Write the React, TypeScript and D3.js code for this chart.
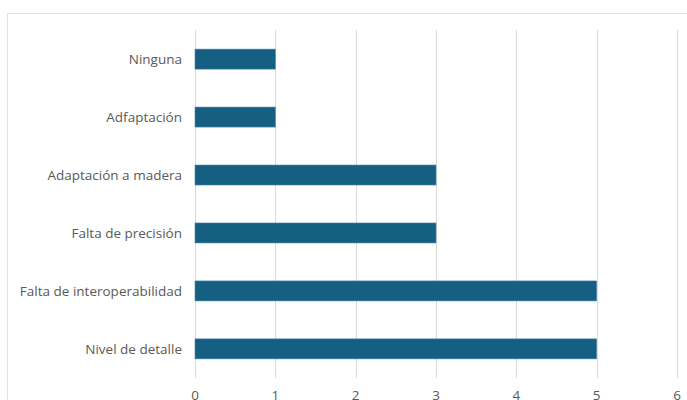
import React from "react";
import * as d3 from "d3";

const categories = ["Ninguna", "Adfaptación", "Adaptación a madera", "Falta de precisión", "Falta de interoperabilidad", "Nivel de detalle"];
const values = [1, 1, 3, 3, 5, 5];
const ticks = [0, 1, 2, 3, 4, 5, 6];

export default function App() {
  const W = 687, H = 400;
  const x = d3.scaleLinear().domain([0, 6]).range([195, 677]);
  const y = d3.scaleBand().domain(categories).range([30, 378]).paddingInner(0.655).paddingOuter(0.33);
  const font = "'Open Sans', sans-serif";
  return (
    <svg width={W} height={H} style={{ position: "absolute", left: 0, top: 0, display: "block" }}>
      <rect x={0} y={0} width={W} height={H} fill="#fff" />
      <rect x={7.5} y={13.5} width={700} height={420} fill="none" stroke="#e3e3e3" />
      {ticks.map((t) => (
        <line key={t} x1={Math.round(x(t)) + 0.5} x2={Math.round(x(t)) + 0.5} y1={30} y2={378} stroke="#d9d9d9" />
      ))}
      {categories.map((c, i) => (
        <rect key={c} x={x(0)} y={y(c)!} width={x(values[i]) - x(0)} height={y.bandwidth()} fill="#156082" stroke="#4a88a6" strokeWidth={0.6} />
      ))}
      {categories.map((c) => (
        <text key={c} x={182} y={y(c)! + y.bandwidth() / 2} dy="0.35em" textAnchor="end" fontFamily={font} fontSize={13.5} fill="#595959">{c}</text>
      ))}
      {ticks.map((t) => (
        <text key={t} x={x(t)} y={400} textAnchor="middle" fontFamily={font} fontSize={13.5} fill="#595959">{t}</text>
      ))}
    </svg>
  );
}
